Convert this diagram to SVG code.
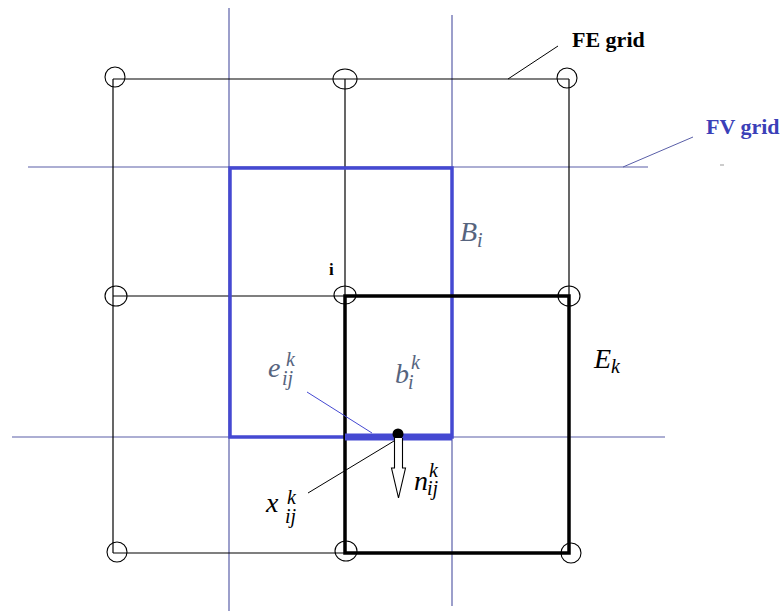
<svg xmlns="http://www.w3.org/2000/svg" width="784" height="613" viewBox="0 0 784 613">
<style>
.fe{stroke:#000;stroke-width:1.2;fill:none}
.fv{stroke:#5a5fa8;stroke-width:1.2;fill:none}
.node{stroke:#000;stroke-width:1.1;fill:none}
.bthick{stroke:#4549d2;stroke-width:3.5;fill:none}
.kthick{stroke:#000;stroke-width:3.5;fill:none}
.lbl{font-family:"Liberation Serif",serif;font-weight:bold;font-size:22px}
.m{font-family:"Liberation Serif",serif;font-style:italic;font-size:28px}
.s{font-size:20px}
.slate{fill:#56647e}
</style>
<rect width="784" height="613" fill="#fff"/>
<g id="fv-grid">
<line class="fv" x1="229" y1="8" x2="229" y2="611"/>
<line class="fv" x1="452" y1="15" x2="452" y2="606"/>
<line class="fv" x1="28" y1="167" x2="648" y2="167"/>
<line class="fv" x1="12" y1="437" x2="665" y2="437"/>
</g>
<g id="fe-grid">
<line class="fe" x1="113" y1="79" x2="569" y2="79"/>
<line class="fe" x1="113" y1="296" x2="345" y2="296"/>
<line class="fe" x1="113" y1="553" x2="345" y2="553"/>
<line class="fe" x1="113" y1="79" x2="113" y2="553"/>
<line class="fe" x1="345" y1="79" x2="345" y2="296"/>
<line class="fe" x1="569" y1="79" x2="569" y2="296"/>
</g>
<g id="B_i">
<rect class="bthick" x="230" y="168" width="222" height="269"/>
</g>
<g id="E_k">
<rect class="kthick" x="345" y="296" width="224" height="257"/>
</g>
<g id="e_ij">
<line x1="345" y1="437" x2="452" y2="437" stroke="#4549d2" stroke-width="7"/>
</g>
<g id="n1"><ellipse class="node" cx="115" cy="77" rx="10" ry="10"/></g>
<g id="n2"><ellipse class="node" cx="345" cy="79" rx="12" ry="10"/></g>
<g id="n3"><ellipse class="node" cx="567" cy="78" rx="10" ry="10"/></g>
<g id="n4"><ellipse class="node" cx="116" cy="296" rx="11" ry="10"/></g>
<g id="n5"><ellipse class="node" cx="345" cy="295" rx="11" ry="9"/></g>
<g id="n6"><ellipse class="node" cx="569" cy="296" rx="11" ry="10"/></g>
<g id="n7"><ellipse class="node" cx="117" cy="552" rx="10" ry="10"/></g>
<g id="n8"><ellipse class="node" cx="346" cy="551" rx="11" ry="10"/></g>
<g id="n9"><ellipse class="node" cx="571" cy="553" rx="10" ry="10"/></g>
<g id="x_ij">
<circle cx="398" cy="434" r="5.5" fill="#000"/>
</g>
<g id="normal">
<path d="M394.5,438 L394.5,468 L391.5,468 L398.5,498 L405.5,468 L402.5,468 L402.5,438" fill="#fff" stroke="#000" stroke-width="1.1"/>
</g>
<g id="connectors">
<line x1="508" y1="79" x2="558" y2="46" stroke="#000" stroke-width="1"/>
<line x1="623" y1="167" x2="693" y2="137" stroke="#5a5fa8" stroke-width="1"/>
<line x1="307" y1="392" x2="372" y2="433" stroke="#4549d2" stroke-width="1"/>
<line x1="394" y1="441" x2="308" y2="493" stroke="#000" stroke-width="1"/>
</g>
<g id="labels">
<text class="lbl" x="572" y="47" fill="#000">FE grid</text>
<text class="lbl" x="706" y="134" fill="#3b40b8">FV grid</text>
<line x1="720" y1="165" x2="724" y2="165" stroke="#999" stroke-width="1"/>
<text x="329" y="275" font-family="Liberation Serif,serif" font-weight="bold" font-size="17">i</text>
<text class="m slate" x="460" y="241" font-size="24">B<tspan class="s" dy="6">i</tspan></text>
<text class="m slate" x="268" y="377">e<tspan class="s" x="286" y="366">k</tspan><tspan class="s" x="282" y="385">ij</tspan></text>
<text class="m slate" x="395" y="383">b<tspan class="s" x="411" y="369">k</tspan><tspan class="s" x="408" y="389">i</tspan></text>
<text class="m" x="594" y="368" font-size="25" fill="#000">E<tspan class="s" dy="5">k</tspan></text>
<text class="m" x="414" y="490" fill="#000">n<tspan class="s" x="429" y="477">k</tspan><tspan class="s" x="427" y="495">ij</tspan></text>
<text class="m" x="266" y="512" fill="#000">x<tspan class="s" x="287" y="504">k</tspan><tspan class="s" x="285" y="523">ij</tspan></text>
</g>
</svg>
